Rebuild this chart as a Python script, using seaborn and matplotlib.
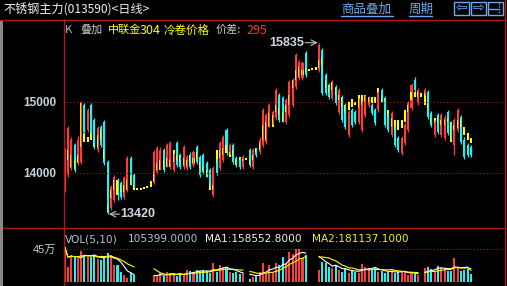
import numpy as np
import pandas as pd
import matplotlib
matplotlib.use("Agg")
import matplotlib.pyplot as plt
import seaborn as sns
from matplotlib.lines import Line2D
from matplotlib.patches import Rectangle

nan = np.nan

# 不锈钢主力 daily bars, nan = no bar that day
main_open = [13760, 13970, 14070, 14390, 14140, 14160, 14960, 14610, 14960, 14750,
             14320, 14650, 14720, 14160, 13510, 13620, 13860, 13860, 13660, 13760,
             14210, 13970, nan, nan, nan, nan, nan, 13870, 14010, 14090,
             14320, 14110, 14090, 14040, 14420, 14250, 14090, 14070, 14250, 14110,
             14370, 14230, 14250, 14140, 14040, 13690, 14180, 14070, 14180, 14610,
             14300, 14390, 14210, 14180, 14090, nan, 14320, 14090, 14320, 14300,
             14390, 14440, 14680, 14720, 14780, 15100, 15060, 14720, 14820, 14960,
             15210, 15340, 15340, 15690, nan, nan, nan, 15450, 15730, 15380,
             15240, 15060, 15210, 14860, 15070, 14960, 14540, 14890, 14860, 14720,
             14610, 14820, 14960, 14960, 14890, 14890, 15170, 15060, 14820, 14540,
             14650, 14490, 14280, 14420, 14610, 14920, 15310, 14990, nan, 15130,
             15140, 14850, 14540, 14820, 14540, 14490, 14860, 14700, 14390, 14610,
             14790, 14470, 14390, 14370]
main_close = [14320, 14630, 14470, 14040, 14470, 15000, 14580, 14890, 14580, 14370,
              14630, 14390, 14140, 13440, 13800, 13940, 13690, 13660, 13930, 14210,
              13860, 13830, nan, nan, nan, nan, nan, 14300, 14350, 14320,
              14040, 14390, 14420, 14250, 14110, 14090, 14370, 14230, 14090, 14300,
              14160, 13970, 14010, 13970, 13830, 14070, 14000, 14420, 14510, 14280,
              14390, 14160, 14110, 14090, 14230, nan, 14110, 14320, 14250, 14470,
              14890, 14820, 14960, 14860, 15170, 14750, 14750, 15030, 15280, 15310,
              15660, 15560, 15550, 15380, nan, nan, nan, 15800, 15130, 15130,
              15070, 15280, 14990, 15170, 14750, 14650, 14860, 14680, 14720, 15030,
              14990, 15070, 15060, 14850, 14700, 15130, 15030, 14680, 14610, 14850,
              14390, 14320, 14490, 14680, 14990, 15240, 15170, 15170, nan, 15170,
              14790, 14680, 14710, 14580, 14820, 14780, 14560, 14510, 14750, 14890,
              14440, 14230, 14250, 14250]
main_high = [14350, 14660, 14500, 14420, 14520, 15010, 14980, 14920, 14990, 14770,
             14660, 14680, 14750, 14180, 13830, 13970, 13930, 13890, 13960, 14240,
             14240, 14000, nan, nan, nan, nan, nan, 14330, 14380, 14360,
             14350, 14420, 14450, 14280, 14450, 14280, 14400, 14260, 14290, 14330,
             14400, 14260, 14280, 14170, 14070, 14100, 14210, 14450, 14540, 14640,
             14420, 14420, 14240, 14210, 14260, nan, 14350, 14350, 14350, 14500,
             14920, 14850, 14990, 14890, 15200, 15130, 15090, 15060, 15310, 15340,
             15690, 15590, 15580, 15720, nan, nan, nan, 15835, 15760, 15410,
             15270, 15310, 15240, 15200, 15100, 14990, 14890, 14920, 14890, 15060,
             15020, 15100, 15090, 14990, 14920, 15160, 15200, 15090, 14850, 14880,
             14680, 14520, 14520, 14710, 15020, 15270, 15350, 15200, nan, 15200,
             15170, 14880, 14740, 14850, 14850, 14810, 14890, 14730, 14780, 14920,
             14820, 14500, 14420, 14400]
main_low = [13730, 13940, 14040, 14010, 14110, 14130, 14550, 14580, 14550, 14340,
            14300, 14360, 14110, 13420, 13480, 13590, 13620, 13630, 13630, 13730,
            13830, 13800, nan, nan, nan, nan, nan, 13840, 13990, 14060,
            14010, 14080, 14060, 14010, 14080, 14060, 14060, 14040, 14060, 14080,
            14130, 13940, 13980, 13940, 13800, 13660, 13970, 14040, 14150, 14250,
            14270, 14130, 14080, 14060, 14060, nan, 14080, 14060, 14220, 14270,
            14360, 14410, 14650, 14690, 14750, 14720, 14720, 14690, 14790, 14930,
            15180, 15310, 15310, 15350, nan, nan, nan, 15420, 15100, 15100,
            15040, 15030, 14960, 14830, 14720, 14620, 14510, 14650, 14690, 14690,
            14580, 14790, 14930, 14820, 14670, 14860, 15000, 14650, 14580, 14510,
            14360, 14290, 14250, 14390, 14580, 14890, 15140, 14960, nan, 15100,
            14760, 14650, 14510, 14550, 14510, 14460, 14530, 14480, 14250, 14580,
            14410, 14200, 14220, 14220]

# 中联金304冷卷价格 overlay (already shifted by 价差), body only
over_open = [14180, 14320, 14250, 14180, 14250, 14990, 14560, 14510, 14580, 14420,
             14540, 14610, 14320, 13550, 13760, 13900, 13900, 13830, 13830, 13900,
             13960, 13830, 13790, 13790, 13800, 13820, 13890, 14010, 14140, 14180,
             14180, 14210, 14180, 14320, 14250, 14250, 14210, 14180, 14250, 14210,
             14300, 14160, 14110, 14040, 13860, 13830, 14320, 14320, 14350, 14390,
             14300, 14320, 14180, 14230, 14200, 14210, 14180, 14250, 14350, 14420,
             14680, 14720, 14850, 14820, 14960, 14920, 14860, 14960, 15100, 15310,
             15450, 15490, 15450, 15480, 15460, 15480, 15490, 15590, 15620, 15310,
             15240, 15280, 15200, 15100, 15070, 14960, 15000, 15040, 15000, 15100,
             15100, 15100, 15070, 15070, 15070, 15200, 15070, 15060, 14890, 14780,
             14750, 14750, 14750, 14890, 14960, 15140, 15140, 15140, 15130, 15130,
             15030, 14780, 14780, 14780, 14750, 14750, 14780, 14720, 14680, 14750,
             14750, 14650, 14560, 14490]
over_close = [13760, 14180, 14090, 14070, 14140, 14370, 14440, 14440, 14470, 14370,
              14370, 14470, 14210, 13450, 13650, 13760, 13690, 13730, 13730, 13760,
              13830, 13760, 13760, 13760, 13770, 13790, 13800, 13870, 14040, 14040,
              14070, 14090, 14090, 14160, 14180, 14160, 14110, 14100, 14140, 14140,
              14210, 14070, 14040, 13940, 13760, 13760, 14140, 14210, 14250, 14280,
              14230, 14240, 14110, 14180, 14170, 14180, 14110, 14180, 14300, 14320,
              14470, 14470, 14650, 14650, 14860, 14820, 14720, 14860, 14960, 15200,
              15310, 15350, 15380, 15420, 15440, 15450, 15450, 15480, 15520, 15200,
              15140, 15170, 15100, 15030, 14930, 14850, 14890, 14930, 14960, 14920,
              14960, 15000, 15000, 14990, 14990, 15130, 15000, 14990, 14790, 14650,
              14610, 14610, 14630, 14720, 14860, 15030, 15070, 15070, 15070, 14960,
              14920, 14710, 14710, 14720, 14680, 14680, 14720, 14440, 14610, 14630,
              14650, 14540, 14470, 14420]

# volume in thousands
volume = [480, 200, 370, 340, 325, 420, 370, 340, 340, 370,
          320, 300, 340, 390, 370, 230, 230, 140, 95, 55,
          120, 90, nan, nan, nan, nan, nan, 80, 95, 120,
          80, 135, 120, 110, 80, 120, 90, 165, 150, 120,
          170, 150, 160, 150, 120, 260, 130, 230, 210, 190,
          130, 120, 140, 110, 120, nan, 40, 70, 95, 135,
          260, 120, 230, 135, 260, 230, 340, 260, 410, 380,
          450, 450, 325, 370, nan, nan, nan, 160, 270, 260,
          200, 190, 230, 160, 135, 190, 120, 170, 135, 120,
          245, 200, 190, 170, 190, 135, 150, 120, 135, 170,
          120, 140, 135, 145, 100, 120, 120, 100, nan, 190,
          200, 180, 150, 220, 200, 190, 150, 150, 330, 190,
          150, 170, 177, 105.4]

price_ticks = [14000, 15000]
vol_ticks = [450]
vol_tick_labels = ["45万"]

RED = "#ff3c3c"
CYAN = "#1ef2f2"
YELLOW = "#ffff00"
FRAME = "#b01818"
GRID = "#a01818"
BLUE = "#6fa8ee"

sns.set_style("dark", {"axes.facecolor": "black", "figure.facecolor": "black"})
plt.rcParams["font.family"] = ["Noto Sans CJK SC", "DejaVu Sans"]

W, H = 507, 286
fig = plt.figure(figsize=(W / 100, H / 100), dpi=100, facecolor="black")


def fx(x):
    return x / W


def fy(y):
    return 1 - y / H


ax = fig.add_axes([fx(63), fy(227), (504 - 63) / W, (227 - 19) / H])
axv = fig.add_axes([fx(63), fy(284), (504 - 63) / W, (284 - 228) / H])

df = pd.DataFrame({"open": main_open, "high": main_high, "low": main_low, "close": main_close,
                   "oo": over_open, "oc": over_close, "vol": volume})
df["idx"] = np.arange(len(df))
df["up"] = df["close"] >= df["open"]
df["col"] = np.where(df["up"], RED, CYAN)

# main candles
d = df[df["open"].notna()]
ax.vlines(d["idx"], d["low"], d["high"], colors=d["col"], lw=0.9)
body = (d["close"] - d["open"]).abs().clip(lower=14)
ax.bar(d["idx"], body, bottom=d[["open", "close"]].min(axis=1), width=0.62,
       color=d["col"], linewidth=0)

# overlay bodies
ob = (df["oo"] - df["oc"]).abs().clip(lower=25)
ax.bar(df["idx"], ob, bottom=df[["oo", "oc"]].min(axis=1), width=0.62, color=YELLOW, linewidth=0)

for v in price_ticks:
    ax.axhline(v, color=GRID, lw=0.8, ls=(0, (1, 2)))

ax.set_xlim(-0.5, 133.0)
ax.set_ylim(13239, 16169)
ax.set_xticks([])
ax.set_yticks(price_ticks)
ax.set_yticklabels([str(v) for v in price_ticks])
ax.tick_params(axis="y", length=0, pad=5, labelsize=8.5, labelcolor="#c8d0dc")
for lab in ax.get_yticklabels():
    lab.set_fontweight("bold")
    lab.set_family(["Liberation Sans", "DejaVu Sans"])
for s in ax.spines.values():
    s.set_visible(False)

# high / low markers
pi = int(np.nanargmax(df["high"]))
ph = df["high"][pi]
ax.annotate("", xy=(pi - 0.4, ph), xytext=(pi - 4.2, ph),
            arrowprops=dict(arrowstyle="->", color="#bfc4c8", lw=0.8, shrinkA=0, shrinkB=0))
ax.text(pi - 4.4, ph, f"{ph:.0f}", ha="right", va="center", fontsize=9, fontweight="bold",
        color="#d0d8e0", family=["Liberation Sans", "DejaVu Sans"])
li = int(np.nanargmin(df["low"]))
lv = df["low"][li]
ax.annotate("", xy=(li + 0.4, lv), xytext=(li + 3.6, lv),
            arrowprops=dict(arrowstyle="->", color="#bfc4c8", lw=0.8, shrinkA=0, shrinkB=0))
ax.text(li + 3.8, lv, f"{lv:.0f}", ha="left", va="center", fontsize=9, fontweight="bold",
        color="#d0d8e0", family=["Liberation Sans", "DejaVu Sans"])

# volume panel
dv = df[df["vol"].notna()]
axv.bar(dv["idx"], dv["vol"], width=0.62, color=dv["col"], linewidth=0)
vs = df["vol"].dropna()
df["ma5"] = vs.rolling(5, min_periods=1).mean().reindex(df.index)
df["ma10"] = vs.rolling(10, min_periods=1).mean().reindex(df.index)
df["seg"] = df["vol"].isna().cumsum()
for _, part in df[df["vol"].notna()].groupby("seg"):
    sns.lineplot(x=part["idx"], y=part["ma5"], ax=axv, color="white", lw=0.8)
    sns.lineplot(x=part["idx"], y=part["ma10"], ax=axv, color=YELLOW, lw=0.8)
for v in vol_ticks:
    axv.axhline(v, color=GRID, lw=0.8, ls=(0, (1, 2)))
axv.set_xlim(-0.5, 133.0)
axv.set_ylim(-27, 736)
axv.set_xticks([])
axv.set_yticks(vol_ticks)
axv.set_yticklabels(vol_tick_labels)
axv.tick_params(axis="y", length=0, pad=5, labelsize=8, labelcolor="#c8cccc")
for lab in axv.get_yticklabels():
    lab.set_family(["Liberation Sans", "Noto Sans CJK SC"])
axv.set_xlabel("")
axv.set_ylabel("")
for s in axv.spines.values():
    s.set_visible(False)


# frame lines
def fline(xs, ys, color=FRAME, **kw):
    fig.add_artist(Line2D([fx(x) for x in xs], [fy(y) for y in ys], color=color, lw=1, **kw))


fline([0, 505], [19.5, 19.5])
fline([3, 505], [227.5, 227.5])
fline([63.5, 63.5], [19, 286])
fline([504.5, 504.5], [0, 286])
fig.add_artist(Rectangle((0, 0), fx(2.5), fy(19.5), transform=fig.transFigure,
                         color="#8a8a8a", lw=0))

# header texts
fig.text(fx(3), fy(10), "不锈钢主力(013590)<日线>", fontsize=8.7, color="#f0f0f0", va="center")
row2 = [(65, "K", "#a8bccc", 8), (80, "叠加", "#c8c8c8", 8), (108, "中联金", YELLOW, 8),
        (140, "304", YELLOW, 9), (164, "冷卷价格", YELLOW, 8.3), (216, "价差:", "#c8c8c8", 8),
        (246, "295", "#ff3030", 9)]
for x, s, c, fs in row2:
    fig.text(fx(x), fy(30), s, fontsize=fs, color=c, va="center")

fig.text(fx(341), fy(9), "商品叠加", fontsize=9, color=BLUE, va="center")
fline([341, 393], [15.5, 15.5], color=BLUE)
fig.text(fx(409), fy(9), "周期", fontsize=9, color=BLUE, va="center")
fline([409, 432], [15.5, 15.5], color=BLUE)
for x0 in (454, 471, 488):
    fig.add_artist(Rectangle((fx(x0), fy(15)), 15 / W, 13 / H, transform=fig.transFigure,
                             fill=False, edgecolor=BLUE, lw=1))
fig.text(fx(461.5), fy(8.5), "⇦", fontsize=10, color=BLUE, ha="center", va="center",
         family="DejaVu Sans")
fig.text(fx(478.5), fy(8.5), "⇨", fontsize=10, color=BLUE, ha="center", va="center",
         family="DejaVu Sans")
fline([489, 499], [8.5, 8.5], color=BLUE)
fline([499, 499], [3, 14], color=BLUE, ls=(0, (1, 1)))

vol_hdr = [(65, "VOL(5,10)", "#b8c0d0"), (128, "105399.0000", "#b8c0d0"),
           (205, "MA1:158552.8000", "#f0f0f0"), (312, "MA2:181137.1000", "#f0f000")]
for x, s, c in vol_hdr:
    fig.text(fx(x), fy(239), s, fontsize=7.6, color=c, va="center", family="DejaVu Sans")

fig.savefig("out.png", dpi=100, facecolor="black")
